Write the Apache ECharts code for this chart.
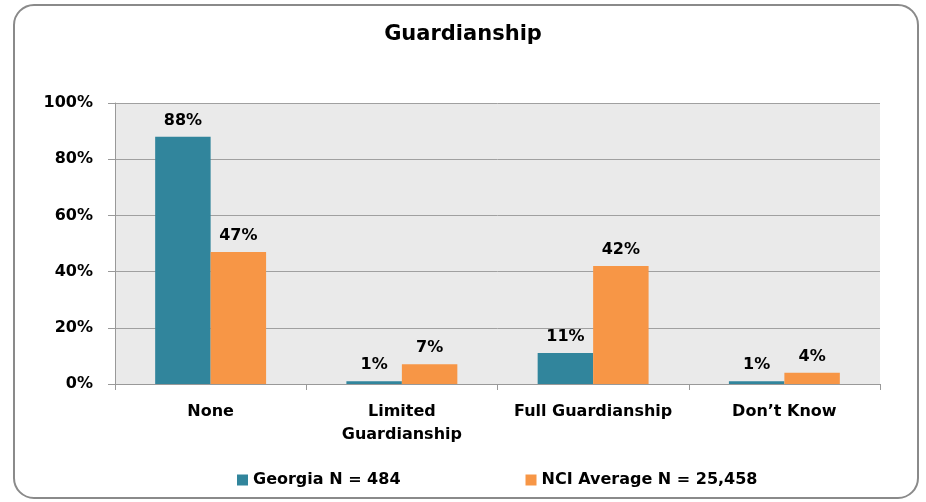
<!DOCTYPE html>
<html>
<head>
<meta charset="utf-8">
<script src="https://cdn.jsdelivr.net/npm/echarts@6/dist/echarts.min.js"></script>
<style>
  html, body { margin: 0; padding: 0; background: #fff; }
  #chart { width: 926px; height: 502px; }
</style>
</head>
<body>
<div id="chart"></div>
<script>
// 类别与数据
const categories = ['None', 'Limited\nGuardianship', 'Full Guardianship', 'Don\u2019t Know'];
const georgia = [88, 1, 11, 1];
const nciAverage = [47, 7, 42, 4];
const seriesNames = ['Georgia N = 484', 'NCI Average N = 25,458'];

const font = '"DejaVu Sans", "Open Sans", sans-serif';

let myChart = echarts.init(document.getElementById('chart'));

let option = {
  backgroundColor: '#fff',
  title: {
    text: 'Guardianship',
    left: 'center',
    top: 19,
    textStyle: { fontFamily: font, fontSize: 21, fontWeight: 'bold', color: '#000' }
  },
  // 外边框
  graphic: [{
    type: 'rect',
    shape: { x: 14, y: 5, width: 904, height: 493, r: 20 },
    style: { fill: 'none', stroke: '#8a8a8a', lineWidth: 2 },
    silent: true
  }],
  legend: {
    data: seriesNames,
    left: 232,
    top: 467,
    itemWidth: 11,
    itemHeight: 11,
    itemGap: 125,
    icon: 'rect',
    textStyle: { fontFamily: font, fontSize: 16, fontWeight: 'bold', color: '#000' }
  },
  grid: {
    left: 115,
    right: 46,
    top: 103,
    bottom: 118,
    show: true,
    backgroundColor: '#eaeaea',
    borderWidth: 0
  },
  xAxis: {
    type: 'category',
    data: categories,
    axisLine: { lineStyle: { color: '#999', width: 1 } },
    axisTick: { show: true, length: 6, lineStyle: { color: '#999' } },
    axisLabel: {
      interval: 0,
      margin: 16,
      lineHeight: 23,
      fontFamily: font, fontSize: 16, fontWeight: 'bold', color: '#000'
    }
  },
  yAxis: {
    type: 'value',
    min: 0,
    max: 100,
    interval: 20,
    axisLine: { show: true, lineStyle: { color: '#999' } },
    axisTick: { show: true, length: 7, lineStyle: { color: '#999' } },
    splitLine: { lineStyle: { color: '#a0a0a0', width: 1 } },
    axisLabel: {
      margin: 22,
      formatter: '{value}%',
      fontFamily: font, fontSize: 16, fontWeight: 'bold', color: '#000'
    }
  },
  series: [
    {
      name: seriesNames[0],
      type: 'bar',
      data: georgia,
      color: '#31859c',
      barGap: '0%',
      barCategoryGap: '42%',
      label: {
        show: true, position: 'top', distance: 8, formatter: '{c}%',
        fontFamily: font, fontSize: 16, fontWeight: 'bold', color: '#000'
      }
    },
    {
      name: seriesNames[1],
      type: 'bar',
      data: nciAverage,
      color: '#f79646',
      barGap: '0%',
      barCategoryGap: '42%',
      label: {
        show: true, position: 'top', distance: 8, formatter: '{c}%',
        fontFamily: font, fontSize: 16, fontWeight: 'bold', color: '#000'
      }
    }
  ]
};

myChart.setOption(option);
</script>
</body>
</html>
